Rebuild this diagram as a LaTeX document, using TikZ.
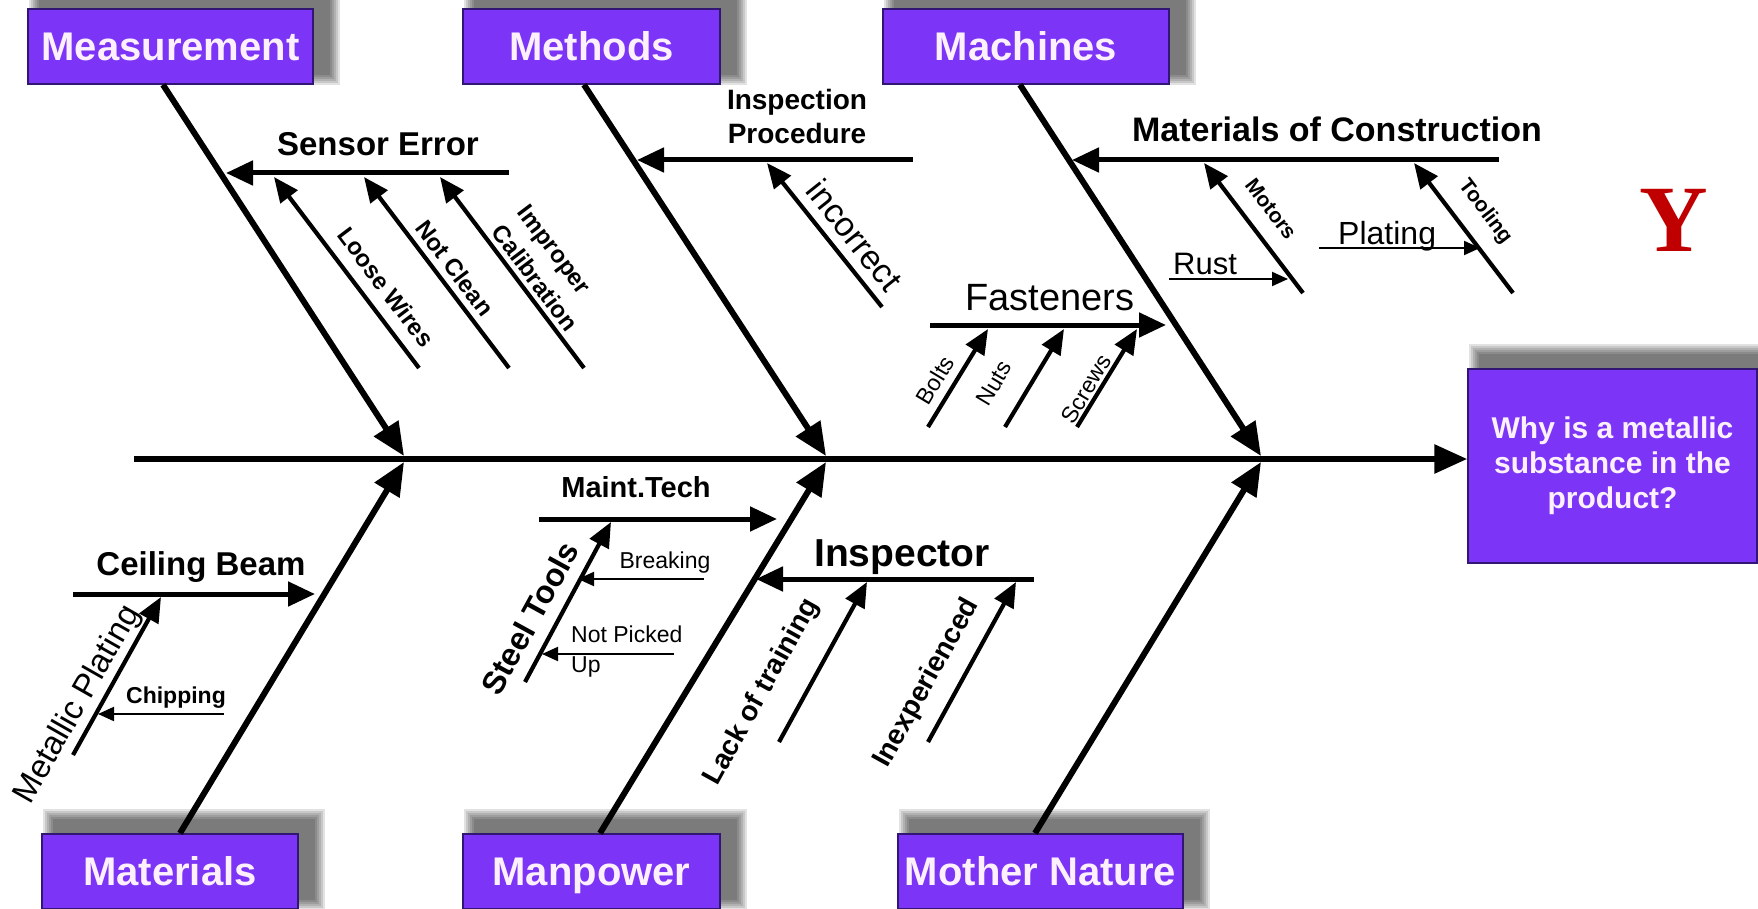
\documentclass[tikz,border=0pt]{standalone}
\usepackage{fontspec}
\setmainfont{Liberation Sans}
\newfontfamily\serifface{Liberation Serif}
\usetikzlibrary{arrows.meta,backgrounds}

\definecolor{boxfill}{RGB}{124,52,246}
\definecolor{boxedge}{RGB}{50,22,115}
\definecolor{boxtext}{RGB}{253,240,253}
\definecolor{yred}{RGB}{192,0,0}

% soft grey shadow, shifted up and to the right of a box
\newcommand\softshadow[1]{%
  \foreach \k in {1,...,6}{%
    \fill[black,opacity=0.115]
      ([xshift={14pt-\k*2pt},yshift={12pt+\k*2pt}]#1.north west) rectangle
      ([xshift={14pt+\k*2pt},yshift={12pt-\k*2pt}]#1.south east);
  }%
}

\tikzset{
  catbox/.style={draw=boxedge, line width=1.5pt, fill=boxfill, text=boxtext,
    inner sep=0pt, minimum height=75pt},
  catlabel/.style={catbox, text height=28.6pt, text depth=0pt,
    font=\bfseries\fontsize{40}{46}\selectfont},
  bone/.style={line width=6pt, -{Triangle[length=33pt,width=28pt]}},
  branch/.style={line width=5pt, -{Triangle[length=27pt,width=24pt]}},
  twig/.style={line width=4.2pt, -{Triangle[length=25pt,width=21pt]}},
  fineline/.style={line width=2pt, -{Triangle[length=16pt,width=14pt]}},
  lbl/.style={inner sep=0pt, text=black},
  twiglbl/.style={lbl, font=\bfseries\fontsize{24}{33}\selectfont},
  forklbl/.style={lbl, font=\fontsize{23}{26}\selectfont},
}

\begin{document}
\begin{tikzpicture}[x=1pt,y=-1pt]
\useasboundingbox (0,0) rectangle (1758,909);

% ---------- category boxes ----------
\node[catlabel, minimum width=285pt] (meas) at (170.5,46.5) {Measurement};
\node[catlabel, minimum width=257pt] (meth) at (591.5,46.5) {Methods};
\node[catlabel, minimum width=286pt] (mach) at (1026,46.5) {Machines};
\node[catlabel, minimum width=256pt] (matl) at (170,871.5) {Materials};
\node[catlabel, minimum width=257pt] (manp) at (591.5,871.5) {Manpower};
\node[catlabel, minimum width=285pt] (moth) at (1040.5,871.5) {Mother Nature};
\node[catbox, minimum width=289pt, minimum height=194pt, align=center,
      font=\bfseries\fontsize{30}{35}\selectfont] (q) at (1612.5,466)
      {Why is a metallic\\substance in the\\product?};

\begin{scope}[on background layer]
  \softshadow{meas}\softshadow{meth}\softshadow{mach}
  \softshadow{matl}\softshadow{manp}\softshadow{moth}\softshadow{q}
\end{scope}

\node[lbl, text=yred, font=\serifface\bfseries\fontsize{95}{95}\selectfont] (ylab) at (1674,220) {Y};

% ---------- spine ----------
\coordinate (tail) at (134,459);
\coordinate (j1) at (404,459);
\coordinate (j2) at (826,459);
\coordinate (j3) at (1261,459);
\draw[bone] (tail) -- (tail -| q.west);

% ---------- main bones ----------
\draw[bone] ([xshift=-7.5pt]meas.south) -- ([yshift=3pt]j1);
\draw[bone] ([xshift=-7.5pt]meth.south) -- ([yshift=3pt]j2);
\draw[bone] ([xshift=-6pt]mach.south) -- ([yshift=3pt]j3);
\draw[bone] ([xshift=10pt]matl.north) -- ([yshift=-3pt]j1);
\draw[bone] ([xshift=8.5pt]manp.north) -- ([yshift=-3pt]j2);
\draw[bone] ([xshift=-5.5pt]moth.north) -- ([yshift=-3pt]j3);

% ---------- Measurement: sensor error ----------
\coordinate (se-r) at (509,173); \coordinate (se-h) at (226,173);
\draw[branch] (se-r) -- (se-h);
\node[lbl, anchor=base, font=\bfseries\fontsize{33}{38}\selectfont] (se) at (378,156) {Sensor Error};
\coordinate (lw-t) at (419,368); \coordinate (lw-h) at (274,177);
\coordinate (nc-t) at (509,368); \coordinate (nc-h) at (364,177);
\coordinate (ic-t) at (584,368); \coordinate (ic-h) at (440,177);
\draw[twig] (lw-t) -- (lw-h);
\draw[twig] (nc-t) -- (nc-h);
\draw[twig] (ic-t) -- (ic-h);
\node[twiglbl, rotate=-53] (lw) at (386,287) {Loose Wires};
\node[twiglbl, rotate=-53] (nc) at (455,268) {Not Clean};
\node[twiglbl, rotate=-53, align=left] (ic) at (548,268) {Improper\\Calibration};

% ---------- Methods: inspection procedure ----------
\coordinate (ip-r) at (913,160); \coordinate (ip-h) at (637,160);
\draw[branch] (ip-r) -- (ip-h);
\node[lbl, align=center, font=\bfseries\fontsize{28}{34}\selectfont] (ip) at (797,116) {Inspection\\Procedure};
\coordinate (in-t) at (882,307); \coordinate (in-h) at (767,163);
\draw[twig] (in-t) -- (in-h);
\node[lbl, rotate=-51.4, font=\fontsize{34}{38}\selectfont] (inc) at (855,235) {incorrect};

% ---------- Machines: materials of construction ----------
\coordinate (mc-r) at (1499,160); \coordinate (mc-h) at (1072,160);
\draw[branch] (mc-r) -- (mc-h);
\node[lbl, anchor=base, font=\bfseries\fontsize{34}{38}\selectfont] (mc) at (1337,142) {Materials of Construction};
\coordinate (mo-t) at (1303,293); \coordinate (mo-h) at (1204,163);
\coordinate (to-t) at (1513,293); \coordinate (to-h) at (1414,163);
\draw[twig] (mo-t) -- (mo-h);
\draw[twig] (to-t) -- (to-h);
\node[lbl, rotate=-52.7, font=\bfseries\fontsize{21}{24}\selectfont] (mo) at (1271,209) {Motors};
\node[lbl, rotate=-52.7, font=\bfseries\fontsize{21}{24}\selectfont] (to) at (1485,212) {Tooling};
\coordinate (ru-t) at (1169,279); \coordinate (ru-h) at (1288,279);
\draw[fineline] (ru-t) -- (ru-h);
\node[lbl, anchor=base west, font=\fontsize{31}{34}\selectfont] (ru) at (1173,275) {Rust};
\coordinate (pl-t) at (1319,248); \coordinate (pl-h) at (1480,248);
\draw[fineline] (pl-t) -- (pl-h);
\node[lbl, anchor=base west, font=\fontsize{32}{36}\selectfont] (pl) at (1338,245) {Plating};

% ---------- Machines: fasteners ----------
\coordinate (fa-t) at (930,325); \coordinate (fa-h) at (1166,325);
\draw[branch] (fa-t) -- (fa-h);
\node[lbl, anchor=base, font=\fontsize{38}{42}\selectfont] (fa) at (1050,310) {Fasteners};
\coordinate (bo-t) at (928,427);  \coordinate (bo-h) at (988,329);
\coordinate (nu-t) at (1005,427); \coordinate (nu-h) at (1064,329);
\coordinate (sc-t) at (1077,427); \coordinate (sc-h) at (1137,329);
\draw[twig] (bo-t) -- (bo-h);
\draw[twig] (nu-t) -- (nu-h);
\draw[twig] (sc-t) -- (sc-h);
\node[forklbl, rotate=59] (bo) at (935,380) {Bolts};
\node[forklbl, rotate=59] (nu) at (994,383) {Nuts};
\node[forklbl, rotate=59] (sc) at (1086,389) {Screws};

% ---------- Materials: ceiling beam ----------
\coordinate (cb-t) at (73,594); \coordinate (cb-h) at (315,594);
\draw[branch] (cb-t) -- (cb-h);
\node[lbl, anchor=base, font=\bfseries\fontsize{33}{38}\selectfont] (cb) at (201,575) {Ceiling Beam};
\coordinate (mp-t) at (73,755); \coordinate (mp-h) at (161,597);
\draw[twig] (mp-t) -- (mp-h);
\node[lbl, rotate=60.4, font=\fontsize{33}{38}\selectfont] (mp) at (78,705) {Metallic Plating};
\coordinate (ch-t) at (224,714); \coordinate (ch-h) at (98,714);
\draw[fineline] (ch-t) -- (ch-h);
\node[lbl, anchor=base, font=\bfseries\fontsize{23}{26}\selectfont] (ch) at (176,703) {Chipping};

% ---------- Manpower: maintenance technician ----------
\coordinate (mt-t) at (539,519); \coordinate (mt-h) at (777,519);
\draw[branch] (mt-t) -- (mt-h);
\node[lbl, anchor=base, font=\bfseries\fontsize{29}{33}\selectfont] (mt) at (636,497) {Maint.Tech};
\coordinate (st-t) at (525,682); \coordinate (st-h) at (611,522);
\draw[twig] (st-t) -- (st-h);
\node[lbl, rotate=61.3, font=\bfseries\fontsize{32}{36}\selectfont] (st) at (530,618) {Steel Tools};
\coordinate (br-t) at (704,579); \coordinate (br-h) at (578,579);
\draw[fineline] (br-t) -- (br-h);
\node[lbl, anchor=base, font=\fontsize{23}{26}\selectfont] (br) at (665,568) {Breaking};
\coordinate (np-t) at (674,654); \coordinate (np-h) at (542,654);
\draw[fineline] (np-t) -- (np-h);
\node[lbl, anchor=west, align=left, font=\fontsize{23}{30}\selectfont] (np) at (571,652) {Not Picked\\Up};

% ---------- Manpower: inspector ----------
\coordinate (is-t) at (1034,579); \coordinate (is-h) at (756,579);
\draw[branch] (is-t) -- (is-h);
\node[lbl, anchor=base, font=\bfseries\fontsize{39}{43}\selectfont] (is) at (902,566) {Inspector};
\coordinate (lt-t) at (779,742); \coordinate (lt-h) at (867,582);
\coordinate (ie-t) at (928,742); \coordinate (ie-h) at (1016,582);
\draw[twig] (lt-t) -- (lt-h);
\draw[twig] (ie-t) -- (ie-h);
\node[lbl, rotate=61, font=\bfseries\fontsize{28}{32}\selectfont] (lt) at (762,692) {Lack of training};
\node[lbl, rotate=61, font=\bfseries\fontsize{28}{32}\selectfont] (ie) at (927,683) {Inexperienced};

\end{tikzpicture}
\end{document}
